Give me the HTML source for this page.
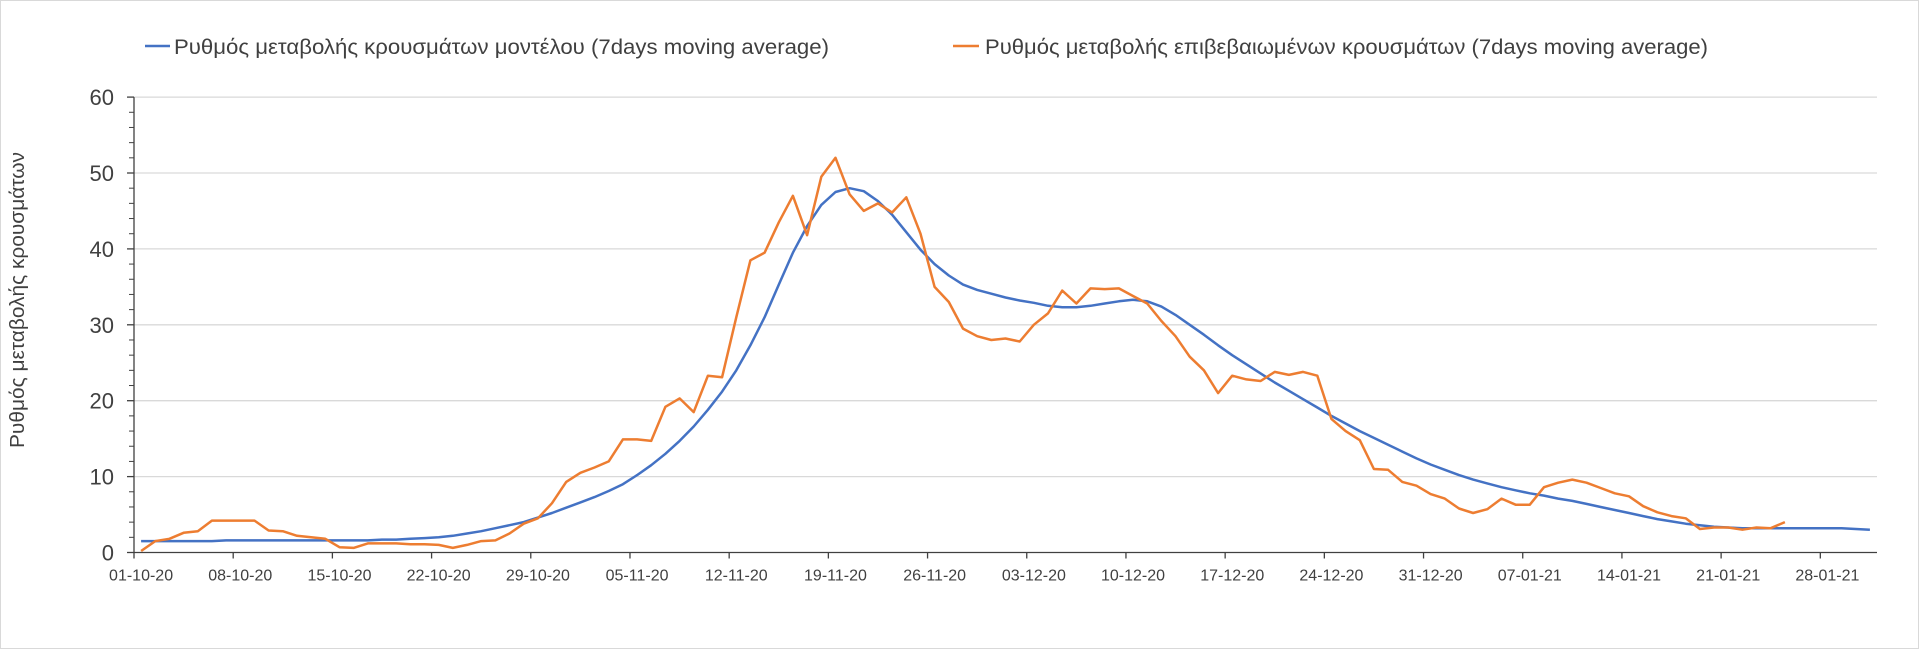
<!DOCTYPE html>
<html><head><meta charset="utf-8">
<style>
html,body{margin:0;padding:0;background:#fff;width:1920px;height:649px;overflow:hidden;}
svg{display:block;font-family:"Liberation Sans",sans-serif;}
</style></head>
<body>
<svg id="chart" width="1920" height="649" viewBox="0 0 1920 649">
<rect x="0.5" y="0.5" width="1918" height="648" fill="#fff" stroke="#d9d9d9"/>
<g id="grid"></g>
<g id="axes"></g>
<g id="series"></g>
<g>
  <g>
    <line x1="145" y1="46" x2="170" y2="46" stroke="#4472C4" stroke-width="2.5"/>
    <text x="174" y="54" font-size="21" fill="#404040" textLength="655" lengthAdjust="spacingAndGlyphs">Ρυθμός μεταβολής κρουσμάτων μοντέλου (7days moving average)</text>
  </g>
  <g>
    <line x1="953" y1="46" x2="979" y2="46" stroke="#ED7D31" stroke-width="2.5"/>
    <text x="985" y="54" font-size="21" fill="#404040" textLength="723" lengthAdjust="spacingAndGlyphs">Ρυθμός μεταβολής επιβεβαιωμένων κρουσμάτων (7days moving average)</text>
  </g>
</g>
<text transform="translate(24,300) rotate(-90)" text-anchor="middle" font-size="20" fill="#404040" textLength="296" lengthAdjust="spacingAndGlyphs">Ρυθμός μεταβολής κρουσμάτων</text>
</svg>
<script>
const xLabels = ["01-10-20","08-10-20","15-10-20","22-10-20","29-10-20","05-11-20","12-11-20","19-11-20","26-11-20","03-12-20","10-12-20","17-12-20","24-12-20","31-12-20","07-01-21","14-01-21","21-01-21","28-01-21"];
const yTicks = [0,10,20,30,40,50,60];
const modelSeries = [1.5,1.5,1.5,1.5,1.5,1.5,1.6,1.6,1.6,1.6,1.6,1.6,1.6,1.6,1.6,1.6,1.6,1.7,1.7,1.8,
1.9,2.0,2.2,2.5,2.8,3.2,3.6,4.0,4.6,5.2,5.9,6.6,7.3,8.1,9.0,10.2,11.5,13.0,14.7,16.6,
18.8,21.2,24.0,27.3,31.0,35.3,39.5,43.0,45.8,47.5,48.0,47.6,46.3,44.5,42.2,39.9,38.0,36.5,35.3,34.6,
34.1,33.6,33.2,32.9,32.5,32.3,32.3,32.5,32.8,33.1,33.3,33.1,32.4,31.3,30.0,28.7,27.3,26.0,24.8,23.6,
22.4,21.3,20.2,19.1,18.0,17.0,16.0,15.1,14.2,13.3,12.4,11.6,10.9,10.2,9.6,9.1,8.6,8.2,7.8,7.5,
7.1,6.8,6.4,6.0,5.6,5.2,4.8,4.4,4.1,3.8,3.6,3.4,3.3,3.2,3.2,3.2,3.2,3.2,3.2,3.2,3.2,3.1,3.0];
const confirmedSeries = [0.2,1.5,1.8,2.6,2.8,4.2,4.2,4.2,4.2,2.9,2.8,2.2,2.0,1.8,0.7,0.6,1.2,1.2,1.2,1.1,
1.1,1.0,0.6,1.0,1.5,1.6,2.5,3.8,4.5,6.5,9.3,10.5,11.2,12.0,14.9,14.9,14.7,19.2,20.3,18.5,
23.3,23.1,31.0,38.5,39.5,43.5,47.0,41.8,49.5,52.0,47.2,45.0,46.0,44.8,46.8,42.0,35.0,33.0,29.5,28.5,
28.0,28.2,27.8,30.0,31.5,34.5,32.8,34.8,34.7,34.8,33.8,32.8,30.5,28.5,25.8,24.0,21.0,23.3,22.8,22.6,
23.8,23.4,23.8,23.3,17.6,16.0,14.8,11.0,10.9,9.3,8.8,7.7,7.1,5.8,5.2,5.7,7.1,6.3,6.3,8.6,
9.2,9.6,9.2,8.5,7.8,7.4,6.1,5.3,4.8,4.5,3.1,3.3,3.3,3.0,3.3,3.2,4.0];

const NS="http://www.w3.org/2000/svg";
const X0=134, X1=1877, Y0=552.5, NCAT=123, DAY=(X1-X0)/NCAT;
function xScale(i){return X0+(i+0.5)*DAY;}
function yScale(v){return Y0-v*7.59;}
function mk(tag,attrs,parent){const e=document.createElementNS(NS,tag);for(const k in attrs)e.setAttribute(k,attrs[k]);parent.appendChild(e);return e;}
const grid=document.getElementById('grid'), axes=document.getElementById('axes'), series=document.getElementById('series');

yTicks.forEach(v=>{
  const y=yScale(v);
  if(v>0){const g=mk('line',{x1:X0,x2:X1,y1:y,y2:y,stroke:'#d9d9d9','stroke-width':1.3},grid);
  
  }
  const t=mk('text',{x:114,y:y+8,'text-anchor':'end','font-size':22,fill:'#404040'},axes);
  t.textContent=v;
  
  
  mk('line',{x1:X0-7,x2:X0,y1:y,y2:y,stroke:'#404040','stroke-width':1.3},axes);
});
for(let v=2;v<60;v+=2){ if(v%10===0) continue; const y=yScale(v);
  mk('line',{x1:X0-5,x2:X0,y1:y,y2:y,stroke:'#404040','stroke-width':1},axes);}
const ya=mk('line',{x1:X0,x2:X0,y1:yScale(60),y2:Y0,stroke:'#404040','stroke-width':1.3},axes);


const xa=mk('line',{x1:X0,x2:X1,y1:Y0,y2:Y0,stroke:'#404040','stroke-width':1.3},axes);


xLabels.forEach((lab,k)=>{
  const xt=X0+k*7*DAY;
  mk('line',{x1:xt,x2:xt,y1:Y0,y2:Y0+6,stroke:'#404040','stroke-width':1.3},axes);
  const t=mk('text',{x:xScale(k*7),y:Y0+28,'text-anchor':'middle','font-size':16,fill:'#404040'},axes);
  t.textContent=lab;
  
  
});
function drawLine(arr,color,name){
  const d=arr.map((v,i)=>(i?'L':'M')+xScale(i).toFixed(1)+','+yScale(v).toFixed(1)).join(' ');
  const p=mk('path',{d:d,fill:'none',stroke:color,'stroke-width':2.5,'stroke-linejoin':'round'},series);
  
  
}
drawLine(modelSeries,'#4472C4','model-rate-line');
drawLine(confirmedSeries,'#ED7D31','confirmed-rate-line');
</script>
</body></html>
